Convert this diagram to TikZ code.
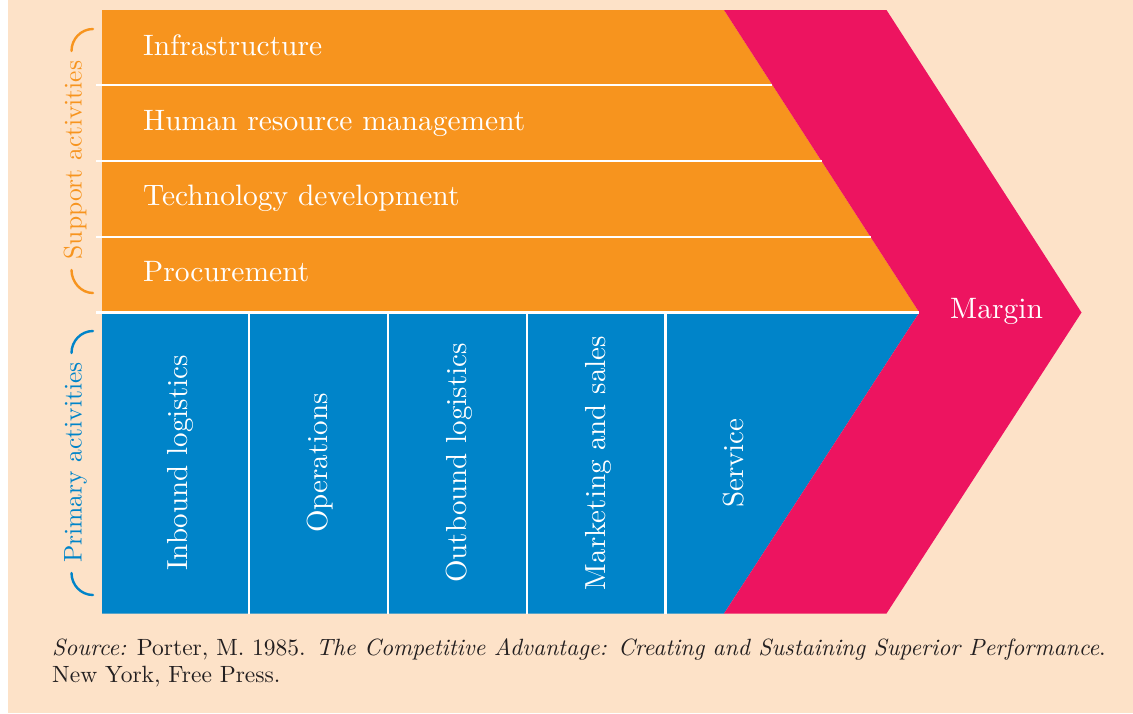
\documentclass[tikz,border=0pt]{standalone}
\usepackage{fontspec}
\setmainfont{lmroman10-regular.otf}[ItalicFont=lmroman10-italic.otf, BoldFont=lmroman10-bold.otf]
\definecolor{peach}{RGB}{253,226,200}
\definecolor{vcorange}{RGB}{247,148,30}
\definecolor{vcpink}{RGB}{237,20,96}
\definecolor{vcblue}{RGB}{0,132,201}
\definecolor{srcink}{RGB}{35,31,32}
\tikzset{
  rowtxt/.style={text=white, inner sep=0pt, anchor=base west, font=\fontsize{29.5}{35}\selectfont},
  coltxt/.style={text=white, inner sep=0pt, anchor=base, rotate=90, font=\fontsize{29}{35}\selectfont},
  sidetxt/.style={inner sep=0pt, anchor=base, rotate=90, font=\fontsize{25.5}{30}\selectfont},
  srctxt/.style={text=srcink, inner sep=0pt, anchor=base west, font=\fontsize{23.5}{28}\selectfont},
  sepline/.style={draw=white, line width=2.6pt},
  brace/.style={line width=2.4pt, line cap=round}
}
\begin{document}
\begin{tikzpicture}[x=1pt,y=-1pt]
\useasboundingbox (0,0) rectangle (1133,713);
\fill[white] (0,0) rectangle (8,713);
\fill[peach] (8,0) rectangle (1133,713);
% blocks
\fill[vcorange] (102,10) -- (724,10) -- (919.3,312.5) -- (102,312.5) -- cycle;
\fill[vcblue] (102,312.5) -- (919.3,312.5) -- (724,613.5) -- (102,613.5) -- cycle;
\fill[vcpink] (724,10) -- (886.5,10) -- (1081.5,312.5) -- (886.5,613.5) -- (724,613.5) -- (919.3,312.5) -- cycle;
% separators
\draw[sepline] (96,85) -- (772.4,85);
\draw[sepline] (96,161) -- (821.5,161);
\draw[sepline] (96,237) -- (870.6,237);
\draw[sepline] (96,312.5) -- (919.3,312.5);
\draw[sepline] (249,313) -- (249,613.5);
\draw[sepline] (388,313) -- (388,613.5);
\draw[sepline] (527,313) -- (527,613.5);
\draw[sepline] (665.5,313) -- (665.5,613.5);
% side brackets
\draw[brace, vcorange] (93,29) .. controls (81,29) and (71.5,39) .. (71.5,51);
\draw[brace, vcorange] (71.5,270) .. controls (71.5,282) and (81,293) .. (93,293);
\draw[brace, vcblue] (93,331) .. controls (81,331) and (71.5,341) .. (71.5,353);
\draw[brace, vcblue] (71.5,573) .. controls (71.5,585) and (81,595) .. (93,595);
% texts
\node[rowtxt] (infra) at (143,55) {Infrastructure};
\node[rowtxt] (hrm) at (143,130) {Human resource management};
\node[rowtxt] (tech) at (143,205.5) {Technology development};
\node[rowtxt] (proc) at (143,281) {Procurement};
\node[rowtxt] (margin) at (950,318) {Margin};
\node[coltxt] (inb) at (187,463) {Inbound logistics};
\node[coltxt] (ops) at (327,463) {Operations};
\node[coltxt] (outb) at (466,463) {Outbound logistics};
\node[coltxt] (mkt) at (605,463) {Marketing and sales};
\node[coltxt] (serv) at (743,463) {Service};
\node[sidetxt, text=vcorange] (support) at (81.5,160) {Support activities};
\node[sidetxt, text=vcblue] (primary) at (81.5,462.5) {Primary activities};
\node[srctxt] (src1) at (52,655) {\textit{Source:} Porter, M. 1985. \textit{The Competitive Advantage: Creating and Sustaining Superior Performance}.};
\node[srctxt] (src2) at (52,682) {New York, Free Press.};
\end{tikzpicture}
\end{document}
